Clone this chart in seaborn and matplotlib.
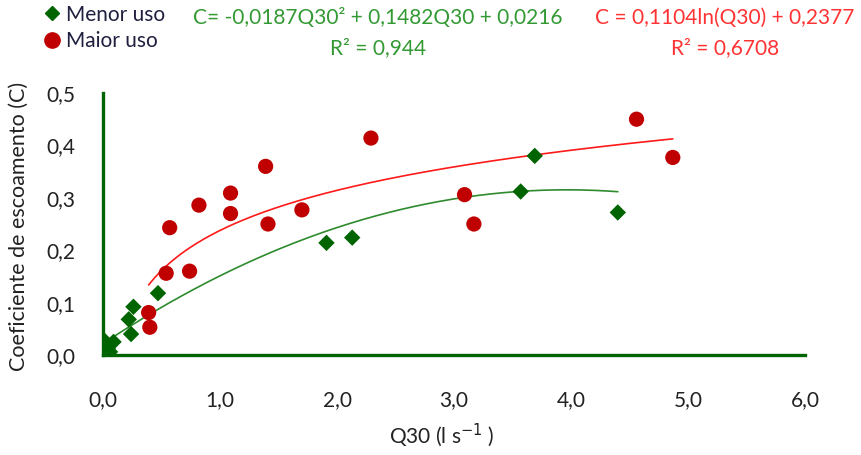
import matplotlib
matplotlib.use("Agg")
import matplotlib.pyplot as plt
import numpy as np
import pandas as pd
import seaborn as sns
from matplotlib.lines import Line2D
from matplotlib.ticker import FuncFormatter

# Menor uso (green diamonds)
menor_q30 = [0.00, 0.02, 0.04, 0.06, 0.09, 0.22, 0.24, 0.26, 0.47, 1.91, 2.13, 3.57, 3.69, 4.40]
menor_c = [0.030, 0.020, 0.012, 0.006, 0.025, 0.068, 0.040, 0.092, 0.118, 0.214, 0.224, 0.312, 0.380, 0.272]

# Maior uso (red circles)
maior_q30 = [0.39, 0.40, 0.54, 0.57, 0.74, 0.82, 1.09, 1.09, 1.39, 1.41, 1.70, 2.29, 3.09, 3.17, 4.56, 4.87]
maior_c = [0.081, 0.053, 0.156, 0.243, 0.160, 0.286, 0.309, 0.270, 0.360, 0.250, 0.277, 0.414, 0.306, 0.250, 0.450, 0.377]

# trend line ranges (from the fitted equations shown on the chart)
poly_coef = [-0.0187, 0.1482, 0.0216]
log_coef = [0.1104, 0.2377]
menor_fit_x = np.linspace(0.0, 4.40, 200)
maior_fit_x = np.linspace(0.39, 4.87, 200)

GREEN = "#006400"
GREEN_LINE = "#2e8b2e"
RED = "#c00000"
RED_LINE = "#ff1a1a"
TXT = "#222222"
FS = 15

sns.set_theme(style="white")
plt.rcParams["font.family"] = ["Lato", "DejaVu Sans"]

fig = plt.figure(figsize=(8.61, 4.55), dpi=100)
ax = fig.add_axes([103 / 861, 1 - 355 / 455, 702 / 861, 262 / 455])

menor = pd.DataFrame({"Q30": menor_q30, "C": menor_c})
maior = pd.DataFrame({"Q30": maior_q30, "C": maior_c})
fit_menor = pd.DataFrame({"Q30": menor_fit_x,
                          "C": np.polyval(poly_coef, menor_fit_x)})
fit_maior = pd.DataFrame({"Q30": maior_fit_x,
                          "C": log_coef[0] * np.log(maior_fit_x) + log_coef[1]})

sns.lineplot(data=fit_menor, x="Q30", y="C", ax=ax, color=GREEN_LINE, lw=1.2, zorder=3)
sns.lineplot(data=fit_maior, x="Q30", y="C", ax=ax, color=RED_LINE, lw=1.2, zorder=3)
sns.scatterplot(data=menor, x="Q30", y="C", ax=ax, marker="D", s=70,
                color=GREEN, edgecolor="none", zorder=4)
sns.scatterplot(data=maior, x="Q30", y="C", ax=ax, marker="o", s=120,
                color=RED, edgecolor="none", zorder=4)

ax.set_xlim(0, 6)
ax.set_ylim(0, 0.5)
ax.set_xticks(np.arange(0, 6.1, 1))
ax.set_yticks(np.arange(0, 0.51, 0.1))
fmt = FuncFormatter(lambda v, p: f"{v:.1f}".replace(".", ","))
ax.xaxis.set_major_formatter(fmt)
ax.yaxis.set_major_formatter(fmt)
ax.tick_params(axis="x", length=0, labelsize=FS, colors=TXT, pad=25)
ax.tick_params(axis="y", length=0, labelsize=FS, colors=TXT, pad=20)

for s in ["top", "right"]:
    ax.spines[s].set_visible(False)
for s in ["left", "bottom"]:
    ax.spines[s].set_color(GREEN)
    ax.spines[s].set_linewidth(2.4)

ax.set_xlabel("Q30 (l s$^{-1}$ )", fontsize=FS, color=TXT)
ax.xaxis.set_label_coords(0.483, -0.255)
ax.set_ylabel("Coeficiente de escoamento (C)", fontsize=FS + 0.5, color=TXT)
ax.yaxis.set_label_coords(-0.105, 0.49)

# legend
handles = [Line2D([], [], marker="D", ls="none", color=GREEN, markersize=7),
           Line2D([], [], marker="o", ls="none", color=RED, markersize=11)]
fig.legend(handles, ["Menor uso", "Maior uso"], loc="upper left",
           bbox_to_anchor=(0.048, 0.99), frameon=False, fontsize=FS,
           borderpad=0, borderaxespad=0, handletextpad=0.2,
           labelspacing=0.3, handlelength=1.0, labelcolor="#1f1f3f")

# trend line equations
fig.text(378 / 861, 1 - 18 / 455, "C= -0,0187Q30² + 0,1482Q30 + 0,0216",
         ha="center", va="center", fontsize=FS, color="#339933")
fig.text(378 / 861, 1 - 48 / 455, "R² = 0,944",
         ha="center", va="center", fontsize=FS, color="#339933")
fig.text(725 / 861, 1 - 18 / 455, "C = 0,1104ln(Q30) + 0,2377",
         ha="center", va="center", fontsize=FS, color="#ff3333")
fig.text(725 / 861, 1 - 48 / 455, "R² = 0,6708",
         ha="center", va="center", fontsize=FS, color="#ff3333")

fig.savefig("out.png", dpi=100)
